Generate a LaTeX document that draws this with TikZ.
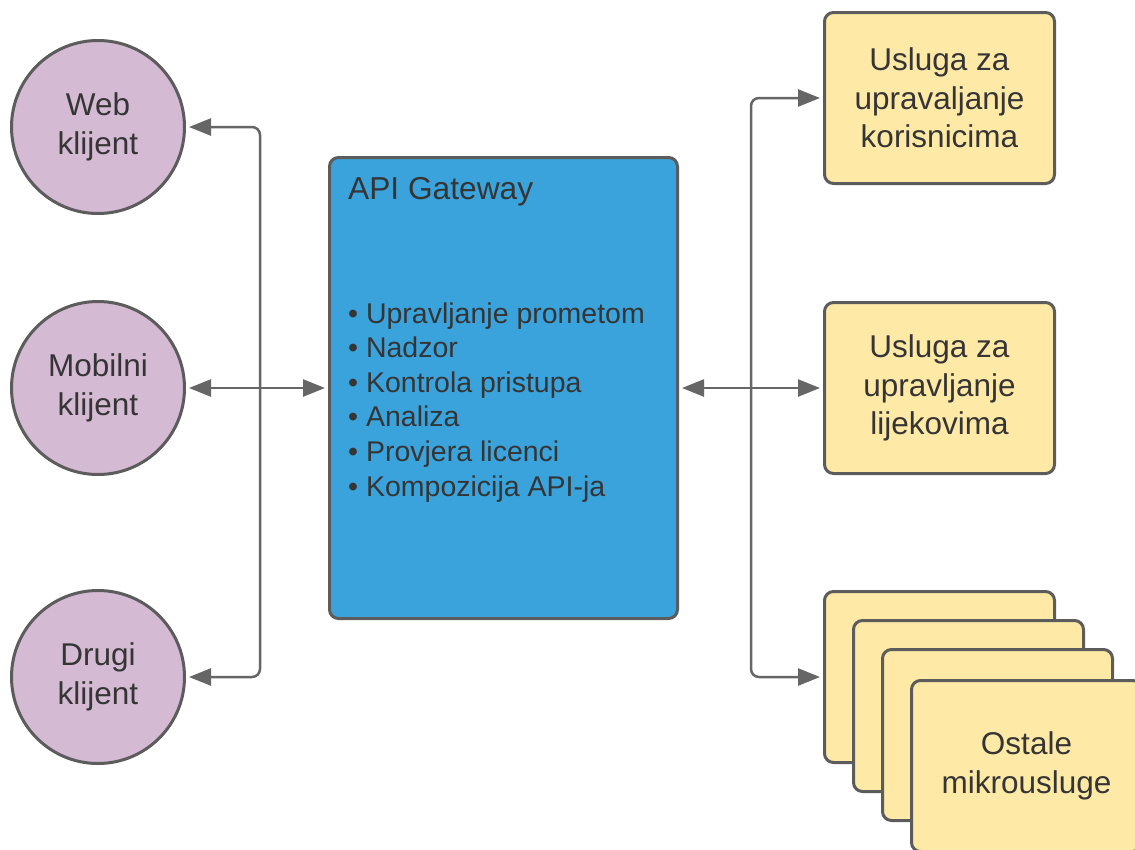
\documentclass[tikz,border=0pt]{standalone}
\usepackage{fontspec}
\setmainfont{Liberation Sans}
\usetikzlibrary{arrows.meta}
\definecolor{lilac}{HTML}{D4BAD3}
\definecolor{sand}{HTML}{FFE9A6}
\definecolor{gwblue}{HTML}{3AA3DC}
\definecolor{edge}{HTML}{5C5C5C}
\definecolor{lineg}{HTML}{666666}
\definecolor{txt}{HTML}{353535}
\begin{document}
\begin{tikzpicture}[x=1pt,y=-1pt,
  client/.style={circle, draw=edge, line width=3pt, fill=lilac, minimum size=173pt,
    inner sep=0pt, align=center, text=txt, font=\fontsize{31.5}{38.5}\selectfont},
  svc/.style={rectangle, rounded corners=9pt, draw=edge, line width=3pt, fill=sand,
    minimum width=230pt, minimum height=171pt, inner sep=0pt, align=center, text=txt,
    font=\fontsize{31.5}{38.5}\selectfont},
  gwbox/.style={rectangle, rounded corners=9pt, draw=edge, line width=3pt, fill=gwblue,
    minimum width=348pt, minimum height=461pt, inner sep=0pt},
  gwtext/.style={anchor=base west, text=txt, inner sep=0pt},
  conn/.style={draw=lineg, line width=2.5pt, rounded corners=8pt},
  tipend/.style={-{Triangle[length=22pt,width=17pt]}, shorten >=3pt},
  tipboth/.style={{Triangle[length=22pt,width=17pt]}-{Triangle[length=22pt,width=17pt]}, shorten >=3pt, shorten <=3pt}
]
\clip (0,0) rectangle (1135,849);
\fill[white] (0,0) rectangle (1135,849);

% clients
\node[client] (web) at (98,127) {Web\\klijent};
\node[client] (mob) at (98,388) {Mobilni\\klijent};
\node[client] (oth) at (98,677) {Drugi\\klijent};

% gateway
\node[gwbox] (gw) at (503.5,388) {};
\node[gwtext, font=\fontsize{31.7}{38}\selectfont] (gwt) at (348,199) {API Gateway};
\foreach \t [count=\i] in {Upravljanje prometom, Nadzor, Kontrola pristupa, Analiza, Provjera licenci, Kompozicija API-ja}
  \node[gwtext, font=\fontsize{28.5}{34.6}\selectfont] (b\i) at (348,{323+34.6*(\i-1)}) {• \t};

% services
\node[svc] (s1) at (939.5,98) {Usluga za\\upravaljanje\\korisnicima};
\node[svc] (s2) at (939.5,388) {Usluga za\\upravljanje\\lijekovima};
\node[svc] (sa) at (939.5,677) {};
\node[svc] (sb) at (968.5,706) {};
\node[svc] (sc) at (997.5,735) {};
\node[svc] (sd) at (1026.5,766) {Ostale\\mikrousluge};

% left connectors
\coordinate (lb) at (260,388);
\draw[conn, tipboth] (mob.east) -- (gw.west |- mob.east);
\draw[conn, tipend] (lb) |- (web.east);
\draw[conn, tipend] (lb) |- (oth.east);

% right connectors
\coordinate (rb) at (751,388);
\draw[conn, tipboth] (gw.east) -- (s2.west);
\draw[conn, tipend] (rb) |- (s1.west);
\draw[conn, tipend] (rb) |- (sa.west);
\end{tikzpicture}
\end{document}
